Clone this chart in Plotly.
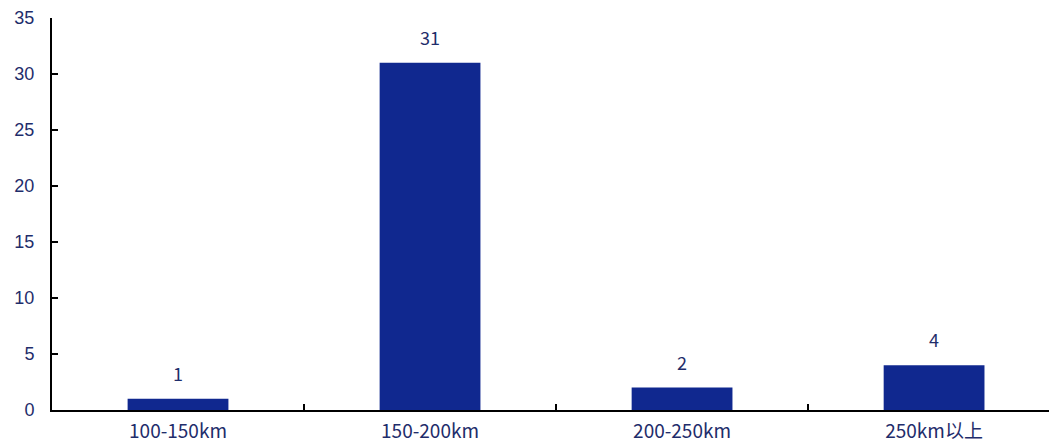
import plotly.graph_objects as go

categories = ["100-150km", "150-200km", "200-250km", "250km以上"]
values = [1, 31, 2, 4]
yticks = [0, 5, 10, 15, 20, 25, 30, 35]

bar_color = "#10288f"
text_color = "#1f2d6b"
font_family = "Noto Sans CJK SC, DejaVu Sans, sans-serif"

fig = go.Figure()
fig.add_trace(go.Bar(
    x=categories, y=values, marker=dict(color=bar_color, line=dict(width=0)),
    width=0.4, hoverinfo="skip",
))
for c, v in zip(categories, values):
    fig.add_annotation(x=c, y=v, text=str(v), showarrow=False, yanchor="bottom",
                       yshift=11, font=dict(size=18, color=text_color, family=font_family))

fig.update_layout(
    width=1051, height=445,
    margin=dict(l=52, r=2, t=18, b=35),
    paper_bgcolor="white", plot_bgcolor="white",
    showlegend=False,
    font=dict(family=font_family, color=text_color, size=16),
)
fig.update_xaxes(
    type="category", range=[-0.5, 3.456], showline=True, linecolor="black", linewidth=2,
    ticks="inside", tickson="boundaries", ticklen=6, tickwidth=2, tickcolor="black",
    tickfont=dict(size=19, color=text_color, family=font_family),
    showgrid=False, zeroline=False, ticklabelstandoff=3, automargin=False,
)
fig.update_yaxes(
    range=[0, 35], tickvals=yticks, showline=True, linecolor="black", linewidth=2,
    ticks="inside", ticklen=6, tickwidth=2, tickcolor="black",
    tickfont=dict(size=18, color=text_color, family="Liberation Sans, Arial, sans-serif"),
    showgrid=False, zeroline=False, ticklabelstandoff=12, automargin=False,
)

fig.write_html("out.html")
